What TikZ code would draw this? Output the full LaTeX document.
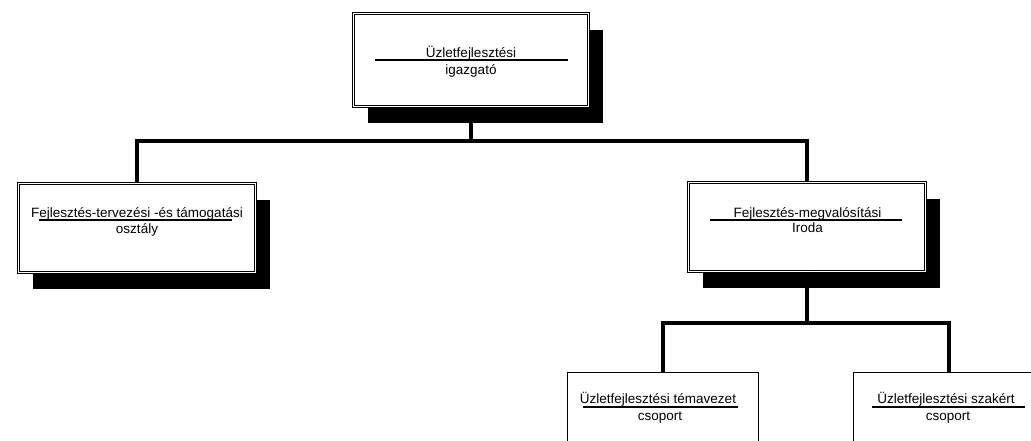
\documentclass[tikz,border=0pt]{standalone}
\usepackage{fontspec}
\setmainfont{Liberation Sans}
\usetikzlibrary{shadows}
\begin{document}
\begin{tikzpicture}[x=1pt,y=-1pt,
  box/.style={draw=black, line width=0.7pt, double=white, double distance=1.6pt,
    fill=white, inner sep=0pt,
    drop shadow={shadow xshift=14pt, shadow yshift=-16pt, fill=black, opacity=1}},
  plainbox/.style={draw=black, line width=0.8pt, fill=white, inner sep=0pt,
    minimum width=191pt, minimum height=150pt},
  txt/.style={anchor=base, inner sep=0pt, font=\fontsize{13.5}{16}\selectfont},
  uline/.style={line width=1.1pt},
  conn/.style={line width=4pt}]
\useasboundingbox (0,0) rectangle (1031,440);
\clip (0,0) rectangle (1031,440);

% boxes
\node[box, minimum width=235pt, minimum height=93pt] (top) at (471,60) {};
\node[box, minimum width=237pt, minimum height=89pt] (left) at (137,228) {};
\node[box, minimum width=237pt, minimum height=89pt] (right) at (807,227) {};
\node[plainbox] (bl) at (662.5,447) {};
\node[plainbox] (br) at (948.5,447) {};

% texts
\node[txt] (ta) at (471,57) {Üzletfejlesztési};
\node[txt] (tb) at (471,74) {igazgató};
\draw[uline] (375,60) -- (568,60);

\node[txt] (la) at (137,217) {Fejlesztés-tervezési -és támogatási};
\node[txt] (lb) at (137,233) {osztály};
\draw[uline] (39,220) -- (232,220);

\node[txt] (ra) at (807.5,217) {Fejlesztés-megvalósítási};
\node[txt] (rb) at (807.5,232) {Iroda};
\draw[uline] (710,220) -- (902,220);

\node[txt] (bla) at (658,403) {Üzletfejlesztési témavezet};
\node[txt] (blb) at (660,420) {csoport};
\draw[uline] (583,407) -- (738,407);

\node[txt] (bra) at (946,403) {Üzletfejlesztési szakért};
\node[txt] (brb) at (948,420) {csoport};
\draw[uline] (872,407) -- (1025,407);

% connectors
\coordinate (j1) at (471,141);
\coordinate (j2) at (807,323);
\draw[conn] (top.south) -- (j1);
\draw[conn] (j1) -| (left.north);
\draw[conn] (j1) -| (right.north);
\draw[conn] (right.south) -- (j2);
\draw[conn] (j2) -| (bl.north);
\draw[conn] (j2) -| (br.north);
\end{tikzpicture}
\end{document}
